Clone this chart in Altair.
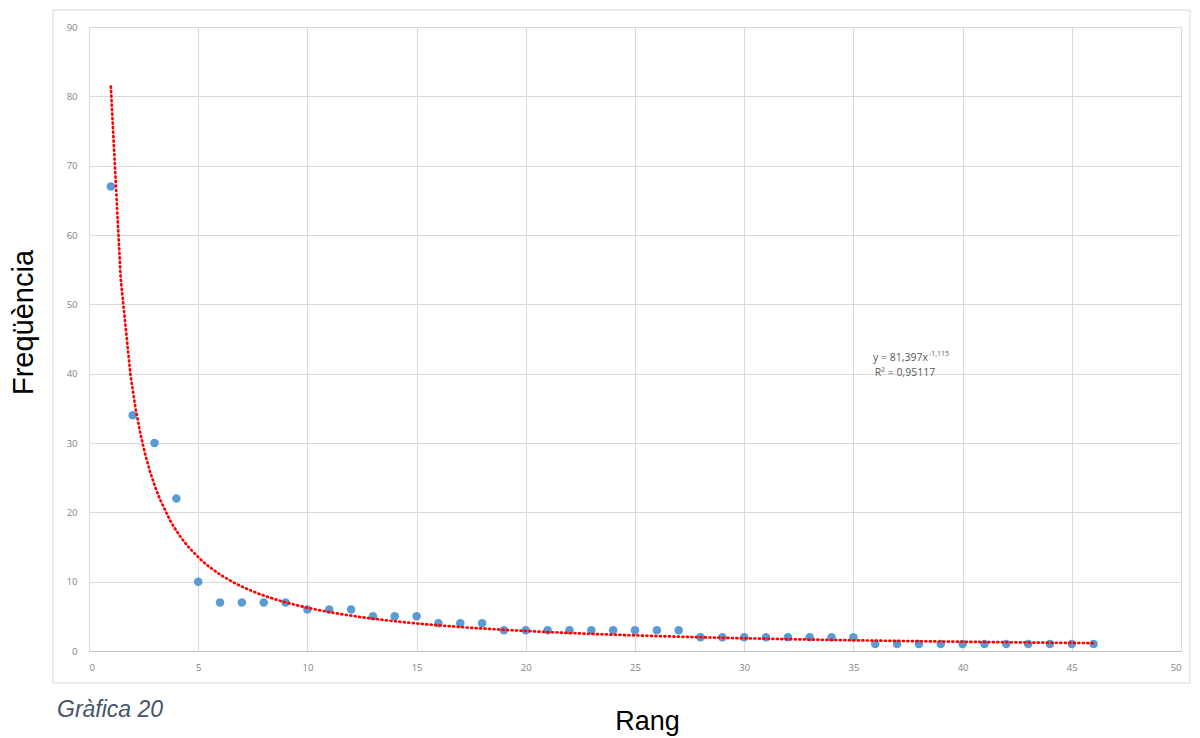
import altair as alt
import pandas as pd

rang = list(range(1, 47))
freq = [67, 34, 30, 22, 10, 7, 7, 7, 7, 6,
        6, 6, 5, 5, 5, 4, 4, 4, 3, 3,
        3, 3, 3, 3, 3, 3, 3, 2, 2, 2,
        2, 2, 2, 2, 2, 1, 1, 1, 1, 1,
        1, 1, 1, 1, 1, 1]

df = pd.DataFrame({"Rang": rang, "Freq": freq})

W, H = 1092, 624
x_scale = alt.Scale(domain=[0, 50], nice=False)
y_scale = alt.Scale(domain=[0, 90], nice=False)

base = alt.Chart(df)

points = base.mark_circle(size=72, color="#5B9BD5", opacity=1).encode(
    x=alt.X("Rang:Q", scale=x_scale,
            axis=alt.Axis(title="Rang", values=list(range(0, 51, 5)), grid=True,
                          gridColor="#d9d9d9", domainColor="#bfbfbf", ticks=False,
                          labelFont="Open Sans", labelFontSize=9.5, labelColor="#7f7f7f",
                          labelPadding=11, titleFont="Liberation Sans", titleFontSize=27,
                          titleFontWeight="normal", titleColor="#000000",
                          titleX=558, titleY=78, titleBaseline="alphabetic")),
    y=alt.Y("Freq:Q", scale=y_scale,
            axis=alt.Axis(title="Freqüència", values=list(range(0, 91, 10)), grid=True,
                          gridColor="#d9d9d9", domain=False, ticks=False,
                          labelFont="Open Sans", labelFontSize=9.5, labelColor="#7f7f7f",
                          labelPadding=12, titleFont="Liberation Sans", titleFontSize=29,
                          titleFontWeight="normal", titleColor="#000000",
                          titleX=-57, titleY=295, titleBaseline="alphabetic")),
)

trend = base.transform_regression(
    "Rang", "Freq", method="pow", extent=[1, 46]
).mark_line(color="#ff0000", strokeWidth=2.7, strokeDash=[1, 3.5], strokeCap="round").encode(
    x=alt.X("Rang:Q", scale=x_scale),
    y=alt.Y("Freq:Q", scale=y_scale),
)

frame = alt.Chart(pd.DataFrame({"a": [0]})).mark_rect(
    fill=None, stroke="#d9d9d9", strokeWidth=1, clip=False
).encode(x=alt.value(-36), x2=alt.value(1101), y=alt.value(-17), y2=alt.value(656))

eq1 = alt.Chart(pd.DataFrame({"t": ["y = 81,397x"]})).mark_text(
    font="Open Sans", fontSize=10.5, color="#595959", align="right", baseline="middle"
).encode(text="t:N", x=alt.value(839), y=alt.value(331))
eq1b = alt.Chart(pd.DataFrame({"t": ["-1,115"]})).mark_text(
    font="Open Sans", fontSize=7, color="#595959", align="left", baseline="middle"
).encode(text="t:N", x=alt.value(840), y=alt.value(327))
eq2 = alt.Chart(pd.DataFrame({"t": ["R² = 0,95117"]})).mark_text(
    font="Open Sans", fontSize=10.5, color="#595959", align="center", baseline="middle"
).encode(text="t:N", x=alt.value(816), y=alt.value(346))

caption = alt.Chart(pd.DataFrame({"t": ["Gràfica 20"]})).mark_text(
    font="Liberation Sans", fontSize=23, fontStyle="italic", color="#44546A",
    align="left", baseline="alphabetic"
).encode(text="t:N", x=alt.value(-32), y=alt.value(690))

chart = alt.layer(frame, points, trend, eq1, eq1b, eq2, caption).properties(
    width=W, height=H,
    autosize=alt.AutoSizeParams(type="none"),
    padding={"left": 81, "top": 19, "right": 11, "bottom": 95},
).configure_view(stroke=None).configure(background="#ffffff")

chart.save("out.html", embed_options={"renderer": "svg", "actions": False})
